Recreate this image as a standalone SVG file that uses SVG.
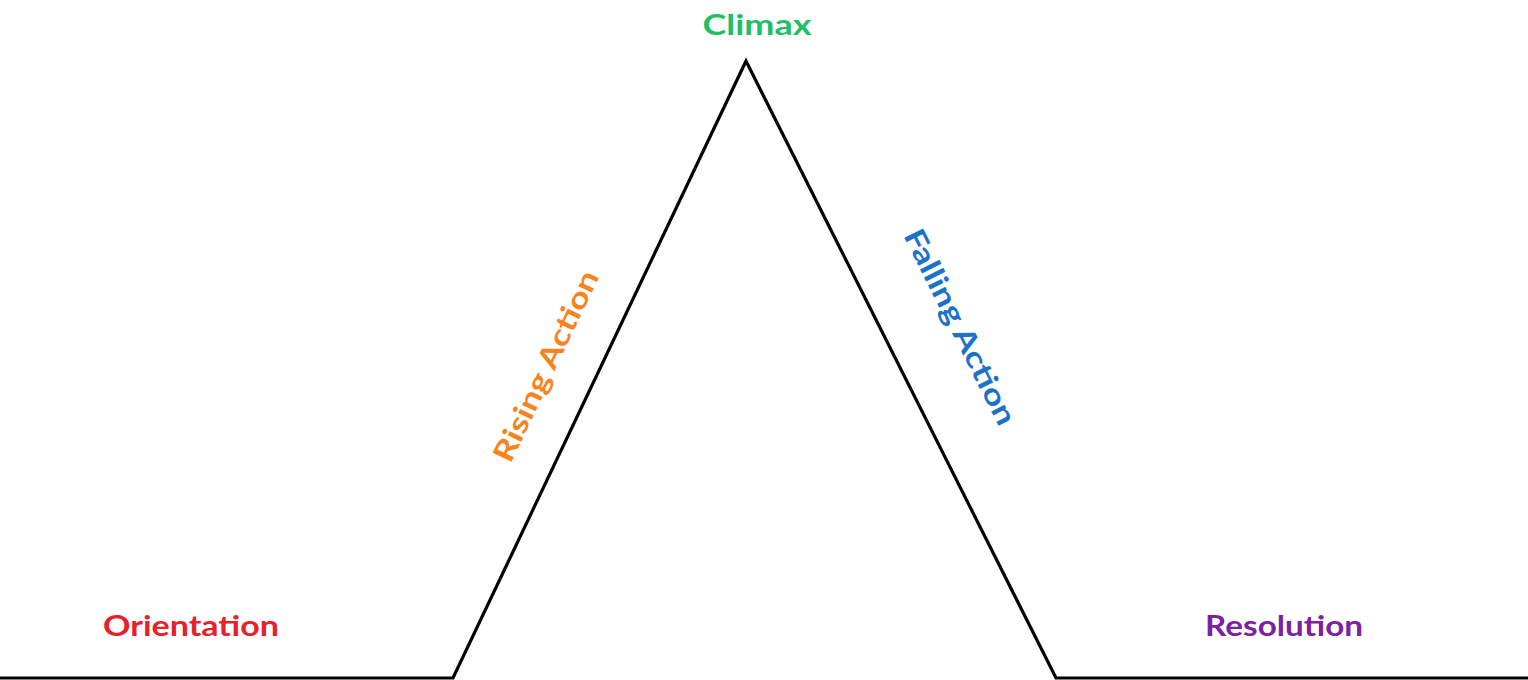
<svg xmlns="http://www.w3.org/2000/svg" width="1528" height="680" viewBox="0 0 1528 680">
<style>
.lbl{font-family:"Lato","Liberation Sans",sans-serif;font-weight:bold;font-size:29px;text-anchor:middle}
</style>
<rect width="1528" height="680" fill="#ffffff"/>
<g id="connectors">
<polyline points="0,678 453,678 746,61 1056,678 1528,678" fill="none" stroke="#000" stroke-width="3.2" stroke-linejoin="miter"/>
</g>
<g id="climax"><text class="lbl" x="757" y="35" fill="#1fbf65" textLength="109" lengthAdjust="spacingAndGlyphs">Climax</text></g>
<g id="rising"><text class="lbl" transform="translate(546,366) rotate(-64.6)" x="0" y="10" fill="#f7841e" textLength="208" lengthAdjust="spacingAndGlyphs">Rising Action</text></g>
<g id="falling"><text class="lbl" transform="translate(960,327) rotate(63.4)" x="0" y="10" fill="#1b73c9" textLength="215" lengthAdjust="spacingAndGlyphs">Falling Action</text></g>
<g id="orientation"><text class="lbl" x="191" y="636" fill="#e8202a" textLength="176" lengthAdjust="spacingAndGlyphs">Orientation</text></g>
<g id="resolution"><text class="lbl" x="1284" y="636" fill="#7b22a3" textLength="158" lengthAdjust="spacingAndGlyphs">Resolution</text></g>
</svg>
